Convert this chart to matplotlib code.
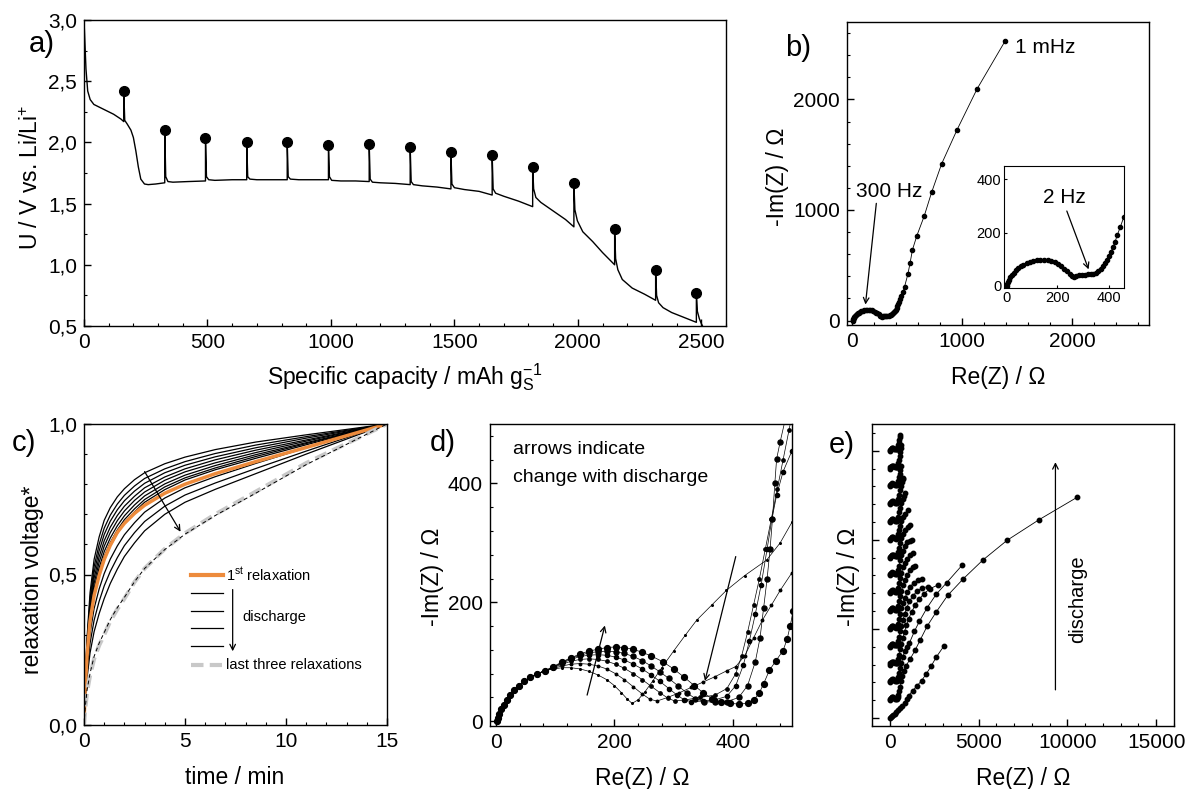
import matplotlib
matplotlib.use("Agg")
import matplotlib.pyplot as plt
from matplotlib.ticker import MultipleLocator, FuncFormatter, NullFormatter

plt.rcParams['font.family'] = ['Liberation Sans', 'DejaVu Sans']
plt.rcParams['mathtext.fontset'] = 'custom'
plt.rcParams['mathtext.rm'] = 'Liberation Sans'
plt.rcParams['mathtext.it'] = 'Liberation Sans:italic'
plt.rcParams['mathtext.bf'] = 'Liberation Sans:bold'
plt.rcParams['axes.linewidth'] = 1.0

# ---------------- panel a : discharge curve with relaxations ----------------
CAP = [0, 3, 8, 15, 25, 40, 60, 90, 120, 150, 161,
       161, 165, 175, 190, 200, 210, 220, 230, 245, 260, 290, 327,
       327, 331, 340, 360, 420, 492,
       492, 496, 505, 530, 600, 659,
       659, 663, 672, 700, 760, 823,
       823, 827, 836, 870, 930, 990,
       990, 994, 1003, 1040, 1100, 1155,
       1155, 1159, 1168, 1200, 1260, 1321,
       1321, 1325, 1334, 1370, 1430, 1486,
       1486, 1490, 1500, 1540, 1600, 1653,
       1653, 1657, 1667, 1700, 1760, 1817,
       1817, 1821, 1830, 1850, 1900, 1950, 1984,
       1984, 1988, 1998, 2020, 2060, 2100, 2149,
       2149, 2153, 2162, 2180, 2220, 2270, 2315,
       2315, 2319, 2327, 2345, 2380, 2430, 2480,
       2480, 2484, 2492, 2500, 2510]
U = [3.0, 2.85, 2.6, 2.42, 2.35, 2.31, 2.29, 2.26, 2.23, 2.19, 2.17,
     2.42, 2.18, 2.15, 2.10, 2.04, 1.93, 1.80, 1.70, 1.66, 1.655, 1.66, 1.67,
     2.10, 1.72, 1.68, 1.675, 1.68, 1.685,
     2.04, 1.72, 1.695, 1.69, 1.695, 1.695,
     2.00, 1.72, 1.70, 1.695, 1.695, 1.695,
     2.00, 1.72, 1.70, 1.695, 1.695, 1.695,
     1.975, 1.72, 1.69, 1.685, 1.685, 1.68,
     1.985, 1.70, 1.675, 1.67, 1.665, 1.655,
     1.96, 1.68, 1.655, 1.645, 1.635, 1.62,
     1.92, 1.66, 1.63, 1.615, 1.60, 1.57,
     1.895, 1.62, 1.585, 1.56, 1.52, 1.475,
     1.80, 1.62, 1.55, 1.51, 1.44, 1.37, 1.31,
     1.665, 1.45, 1.36, 1.27, 1.19, 1.10, 1.00,
     1.29, 1.05, 0.96, 0.88, 0.81, 0.76, 0.71,
     0.96, 0.75, 0.69, 0.65, 0.61, 0.57, 0.53,
     0.77, 0.62, 0.56, 0.52, 0.48]
REL_CAP = [161, 327, 492, 659, 823, 990, 1155, 1321, 1486, 1653, 1817, 1984, 2149, 2315, 2480]
REL_U = [2.42, 2.10, 2.04, 2.00, 2.00, 1.975, 1.985, 1.96, 1.92, 1.895, 1.80, 1.665, 1.29, 0.96, 0.77]

# ---------------- panel b : impedance spectrum ----------------
B_RE = [3, 5, 8, 12, 17, 23, 30, 38, 47, 57, 68, 80, 93, 106, 120, 134, 148, 162, 176, 190,
        203, 215, 227, 238, 248, 257,
        265, 274, 284, 295, 306, 318, 330, 341, 351, 360,
        369, 377, 385, 393, 401, 409, 417, 425, 434, 446, 459, 474, 504, 525, 546, 586,
        652, 721, 812, 953, 1134, 1391]
B_IM = [0, 6, 14, 23, 32, 41, 50, 58, 66, 73, 79, 85, 90, 93, 96, 97, 97, 96, 93, 88,
        81, 73, 64, 55, 45, 37,
        34, 37, 40, 41, 42, 43, 44, 46, 50, 56,
        64, 74, 86, 98, 112, 128, 146, 165, 191, 222, 258, 306, 418, 524, 640, 767,
        942, 1161, 1418, 1727, 2094, 2530]

# ---------------- panel c : normalised relaxation curves ----------------
T = [0, 0.05, 0.15, 0.3, 0.5, 0.75, 1.0, 1.3, 1.65, 2.0, 2.5, 3.0, 4.0, 5.0, 6.5, 8.5, 11, 15]
C_BLACK = [
    [0, .130, .290, .440, .550, .625, .680, .722, .758, .785, .815, .838, .868, .890, .915, .940, .964, 1],
    [0, .124, .277, .420, .526, .600, .654, .697, .734, .763, .794, .819, .851, .875, .902, .930, .958, 1],
    [0, .119, .266, .404, .507, .579, .633, .677, .715, .745, .777, .803, .838, .863, .891, .921, .953, 1],
    [0, .114, .255, .388, .488, .559, .612, .657, .696, .727, .760, .788, .824, .851, .881, .913, .947, 1],
    [0, .110, .245, .374, .471, .541, .594, .639, .679, .711, .746, .774, .813, .841, .871, .905, .943, 1],
    [0, .106, .236, .360, .454, .523, .576, .621, .662, .695, .731, .761, .801, .830, .862, .898, .938, 1],
    [0, .102, .228, .348, .440, .508, .560, .606, .648, .682, .718, .749, .791, .821, .854, .892, .935, 1],
    [0, .099, .221, .338, .428, .495, .547, .594, .636, .670, .708, .740, .782, .814, .848, .886, .931, 1],
    [0, .089, .198, .304, .387, .452, .503, .551, .595, .632, .672, .707, .754, .788, .825, .869, .921, 1],
    [0, .080, .177, .272, .348, .411, .462, .510, .556, .596, .639, .676, .727, .764, .804, .852, .910, 1],
    [0, .070, .155, .240, .310, .370, .420, .470, .518, .560, .605, .645, .700, .740, .783, .835, .900, 1],
]
C_FIRST = [0, .110, .230, .345, .430, .497, .550, .597, .640, .670, .703, .730, .770, .800, .835, .875, .922, 1]
C_LAST = [0, .045, .110, .165, .220, .265, .300, .345, .385, .420, .475, .520, .585, .637, .700, .775, .870, 1]
C_LAST_THIN = [0, .050, .115, .172, .228, .272, .307, .350, .390, .424, .476, .520, .583, .634, .696, .770, .865, 1]

# ---------------- panel d : zoomed spectra during discharge ----------------
D_START_RE = [2, 4, 6, 9, 13, 18, 24, 31, 39, 48, 58, 70, 83]
D_START_IM = [0, 5, 12, 20, 28, 36, 44, 52, 60, 67, 74, 80, 85]
D_RE = [
    [97, 112, 127, 142, 157, 172, 187, 200, 212, 222, 230, 240, 252, 265, 280, 300, 320, 339, 365, 389, 420, 457, 480, 500],
    [97, 112, 127, 142, 157, 172, 187, 202, 217, 232, 247, 260, 272, 290, 310, 330, 350, 370, 390, 405, 420, 435, 450, 465, 480, 500],
    [97, 112, 127, 142, 157, 172, 187, 202, 217, 232, 247, 262, 277, 290, 302, 320, 345, 370, 390, 405, 415, 425, 435, 445, 455, 465, 475, 485, 495, 500],
    [97, 112, 127, 142, 157, 172, 187, 202, 217, 232, 247, 262, 277, 292, 306, 318, 330, 350, 370, 390, 405, 418, 428, 438, 448, 458, 466, 474, 485, 500],
    [97, 112, 127, 142, 157, 172, 187, 202, 217, 232, 247, 262, 277, 292, 307, 322, 337, 352, 370, 390, 410, 425, 438, 446, 452, 458, 463, 467, 471, 474, 480, 488],
    [97, 112, 127, 142, 157, 172, 187, 202, 217, 232, 247, 262, 282, 300, 318, 335, 350, 365, 380, 395, 410, 425, 435, 445, 452, 462, 473, 485, 492, 497, 502],
]
D_IM = [
    [88, 90, 90, 88, 84, 78, 70, 60, 48, 37, 30, 36, 50, 68, 90, 118, 145, 170, 196, 220, 245, 271, 300, 335],
    [89, 93, 96, 97, 96, 93, 88, 80, 70, 58, 46, 37, 34, 40, 48, 57, 66, 75, 85, 92, 110, 140, 170, 195, 220, 250],
    [90, 96, 101, 104, 105, 104, 101, 96, 89, 80, 70, 59, 48, 39, 34, 36, 40, 44, 55, 80, 110, 150, 195, 240, 290, 340, 390, 440, 490, 515],
    [91, 98, 104, 109, 111, 112, 111, 108, 103, 96, 88, 78, 67, 55, 44, 36, 33, 34, 36, 42, 60, 95, 135, 180, 230, 290, 340, 380, 420, 455],
    [91, 99, 106, 111, 115, 117, 118, 117, 114, 109, 102, 93, 83, 72, 60, 48, 38, 33, 32, 33, 40, 60, 100, 140, 190, 240, 290, 340, 400, 441, 470, 505],
    [92, 100, 107, 113, 118, 121, 124, 125, 124, 121, 116, 110, 100, 88, 74, 60, 48, 38, 32, 30, 29, 30, 35, 48, 63, 86, 102, 119, 139, 161, 185],
]
D_MS = [1.2, 1.8, 2.4, 3.0, 3.6, 4.2]

# ---------------- panel e : stacked spectra ----------------
E_SQ_RE = [0, 20, 50, 100, 150, 200, 250, 290, 330, 380, 420, 450]
E_SQ_IM = [0, 60, 110, 150, 170, 160, 120, 80, 70, 80, 110, 170]
E_OFFSET = [0, 1000, 2000, 3000, 4000, 5000, 6000, 7000, 8000, 9000, 10000, 11000, 12000, 13000, 14000, 15000]
E_RE = [
    [0, 60, 130, 200, 280, 370, 470, 580, 700, 830, 950, 1067, 1292, 1536, 1798, 2045, 2322, 2607, 3034],
    [480, 520, 570, 630, 700, 780, 918, 1143, 1423, 1723, 2101, 2607, 3258, 4146, 5225, 6612, 8393, 10544],
    [480, 530, 590, 660, 740, 830, 950, 1107, 1388, 1670, 2101, 2607, 3202, 4067],
    [480, 530, 590, 660, 740, 830, 940, 1070, 1230, 1420, 1650, 1900, 2250, 2697],
    [480, 530, 590, 660, 740, 840, 960, 1110, 1300, 1520, 1800, 2135],
    [480, 530, 590, 660, 750, 860, 990, 1150, 1350, 1580, 1820],
    [480, 530, 590, 660, 750, 860, 990, 1150, 1300, 1442],
    [480, 530, 590, 660, 750, 860, 990, 1130, 1292],
    [480, 530, 590, 660, 750, 860, 990, 1130, 1255],
    [480, 530, 590, 660, 750, 860, 1000, 1161],
    [480, 530, 590, 660, 750, 860, 1011],
    [480, 530, 590, 650, 720, 790, 843],
    [480, 520, 570, 620, 680, 730, 768],
    [480, 520, 560, 600, 635],
    [480, 520, 560, 600, 630, 650],
    [480, 510, 540, 560, 580],
]
E_IM = [
    [0, 40, 100, 170, 250, 340, 450, 570, 700, 860, 1040, 1257, 1539, 1804, 2103, 2463, 2892, 3400, 4019],
    [300, 500, 750, 1050, 1350, 1650, 1931, 2306, 2795, 3397, 4147, 4937, 5877, 6818, 7850, 8977, 10122, 11385],
    [300, 520, 780, 1080, 1400, 1750, 2000, 2211, 2865, 3430, 4184, 4934, 5593, 6568],
    [300, 550, 850, 1150, 1500, 1850, 2200, 2580, 2950, 3320, 3650, 3950, 4250, 4458],
    [300, 560, 860, 1170, 1500, 1850, 2200, 2550, 2850, 3100, 3300, 3367],
    [300, 560, 860, 1150, 1450, 1750, 2050, 2350, 2600, 2720, 2779],
    [300, 560, 860, 1150, 1450, 1750, 2050, 2300, 2450, 2529],
    [300, 560, 850, 1150, 1450, 1700, 1950, 2130, 2245],
    [300, 550, 850, 1130, 1400, 1650, 1850, 1950, 1994],
    [300, 550, 830, 1100, 1350, 1550, 1720, 1840],
    [300, 540, 800, 1050, 1280, 1470, 1669],
    [300, 540, 800, 1050, 1280, 1460, 1627],
    [300, 520, 780, 1030, 1250, 1400, 1472],
    [300, 500, 720, 930, 1132],
    [300, 500, 720, 930, 1130, 1300],
    [300, 450, 600, 750, 900],
]

# ---------------- figure ----------------
W, H = 1186, 789
fig = plt.figure(figsize=(W / 100, H / 100), dpi=100)


def box(l, t, r, b):
    return [l / W, 1 - b / H, (r - l) / W, (b - t) / H]


def fx(x):
    return x / W


def fy(y):
    return 1 - y / H


comma = FuncFormatter(lambda v, p: f"{v:.1f}".replace('.', ','))
ARW = dict(arrowstyle='->', color='black', lw=0.9, shrinkA=0, shrinkB=0)


def style(ax, xmaj, xmin, ymaj, ymin, lsize=15):
    ax.xaxis.set_major_locator(MultipleLocator(xmaj))
    ax.xaxis.set_minor_locator(MultipleLocator(xmin))
    ax.yaxis.set_major_locator(MultipleLocator(ymaj))
    ax.yaxis.set_minor_locator(MultipleLocator(ymin))
    ax.tick_params(which='both', direction='in', top=False, right=False,
                   labelsize=lsize, pad=5)
    ax.tick_params(which='major', length=5, width=1)
    ax.tick_params(which='minor', length=2.5, width=0.8)


def labels(ax, xl, yl, xc, yc, size=16.5):
    ax.set_xlabel(xl, fontsize=size)
    ax.set_ylabel(yl, fontsize=size)
    ax.xaxis.set_label_coords(fx(xc[0]), fy(xc[1]), transform=fig.transFigure)
    ax.yaxis.set_label_coords(fx(yc[0]), fy(yc[1]), transform=fig.transFigure)
    ax.xaxis.label.set_va('center')
    ax.yaxis.label.set_va('center')


# ---- a
axa = fig.add_axes(box(84, 20, 726, 326))
axa.plot(CAP, U, color='black', lw=1.0)
axa.plot(REL_CAP, REL_U, 'o', color='black', ms=7)
axa.set_xlim(0, 2600)
axa.set_ylim(0.5, 3.0)
style(axa, 500, 100, 0.5, 0.25)
axa.yaxis.set_major_formatter(comma)
labels(axa, 'Specific capacity / mAh g$_\\mathregular{S}^{-1}$',
       'U / V vs. Li/Li$^{+}$', (405, 377), (32, 177))

# ---- b
axb = fig.add_axes(box(847, 22, 1149, 325))
axb.plot(B_RE, B_IM, '-o', color='black', lw=0.6, ms=3)
axb.set_xlim(-50, 2700)
axb.set_ylim(-40, 2700)
style(axb, 1000, 200, 1000, 200)
labels(axb, 'Re(Z) / Ω', '-Im(Z) / Ω', (998, 377), (777, 177))
axb.text(335, 1170, '300 Hz', ha='center', va='center', fontsize=15)
axb.annotate('', xy=(118, 145), xytext=(217, 1060), arrowprops=ARW)
axb.text(1484, 2470, '1 mHz', ha='left', va='center', fontsize=15)

axi = fig.add_axes(box(1004, 166, 1124, 288))
axi.plot(B_RE, B_IM, '-o', color='black', lw=0.6, ms=3)
axi.set_xlim(-8, 460)
axi.set_ylim(-8, 450)
axi.xaxis.set_major_locator(MultipleLocator(200))
axi.yaxis.set_major_locator(MultipleLocator(200))
axi.tick_params(which='both', direction='in', length=2, labelsize=10.5, pad=2)
for s in axi.spines.values():
    s.set_linewidth(0.8)
axi.text(226, 331, '2 Hz', ha='center', va='center', fontsize=15)
axi.annotate('', xy=(322, 62), xytext=(237, 281), arrowprops=ARW)

# ---- c
axc = fig.add_axes(box(84, 424, 387, 725))
for row in C_BLACK:
    axc.plot(T, row, color='black', lw=0.9)
axc.plot(T, C_FIRST, color='#ED8B3C', lw=2.5)
axc.plot(T, C_LAST, color='#C8C8C8', lw=3, dashes=(3, 1.5))
axc.plot(T, C_LAST_THIN, color='black', lw=0.7, dashes=(4, 3))
axc.set_xlim(0, 15)
axc.set_ylim(0, 1)
style(axc, 5, 1, 0.5, 0.1)
axc.yaxis.set_major_formatter(comma)
labels(axc, 'time / min', 'relaxation voltage*', (235, 778), (33, 580))
axc.annotate('', xy=(4.78, 0.642), xytext=(3.0, 0.842), arrowprops=ARW)
axc.plot([5.3, 6.9], [0.5, 0.5], color='#ED8B3C', lw=3)
axc.text(7.05, 0.5, '1$^{\\mathregular{st}}$ relaxation', fontsize=10.5, va='center')
for v in (0.44, 0.38, 0.321, 0.262):
    axc.plot([5.3, 6.9], [v, v], color='black', lw=0.9)
axc.annotate('', xy=(7.36, 0.245), xytext=(7.36, 0.45), arrowprops=ARW)
axc.text(7.85, 0.36, 'discharge', fontsize=10.5, va='center')
axc.plot([5.3, 6.85], [0.2, 0.2], color='#C8C8C8', lw=3, dashes=(3, 1.5))
axc.text(7.05, 0.2, 'last three relaxations', fontsize=10.5, va='center')

# ---- d
axd = fig.add_axes(box(490, 424, 792, 726))
for re_, im_, ms in zip(D_RE, D_IM, D_MS):
    axd.plot(D_START_RE + re_, D_START_IM + im_, '-o', color='black', lw=0.5, ms=ms)
axd.set_xlim(-10, 500)
axd.set_ylim(-8, 500)
style(axd, 200, 40, 200, 40)
labels(axd, 'Re(Z) / Ω', '-Im(Z) / Ω', (642, 778), (433, 577))
axd.text(29, 457, 'arrows indicate', fontsize=14, va='center')
axd.text(29, 410, 'change with discharge', fontsize=14, va='center')
axd.annotate('', xy=(184, 161), xytext=(154, 44), arrowprops=ARW)
axd.annotate('', xy=(353, 68), xytext=(405, 277), arrowprops=ARW)

# ---- e
axe = fig.add_axes(box(872, 424, 1174, 726))
for k, (re_, im_, off) in enumerate(zip(E_RE, E_IM, E_OFFSET)):
    if k == 0:
        xs, ys = re_, im_
    else:
        xs, ys = E_SQ_RE + re_, E_SQ_IM + im_
    axe.plot(xs, [y + off for y in ys], '-o', color='black', lw=0.6, ms=3.2)
axe.set_xlim(-1000, 16000)
axe.set_ylim(-450, 16500)
style(axe, 5000, 1000, 5000, 1000)
axe.yaxis.set_major_formatter(NullFormatter())
labels(axe, 'Re(Z) / Ω', '-Im(Z) / Ω', (1023, 778), (848, 577))
axe.annotate('', xy=(9326, 14357), xytext=(9326, 1578), arrowprops=ARW)
axe.text(10548, 6652, 'discharge', rotation=90, fontsize=14.5, ha='center', va='center')

# ---- panel letters
for txt, (x, y) in zip(['a)', 'b)', 'c)', 'd)', 'e)'],
                       [(42, 44), (798, 48), (24, 443), (443, 443), (842, 445)]):
    fig.text(fx(x), fy(y), txt, fontsize=21, ha='center', va='center')

fig.savefig('out.png', dpi=100)
